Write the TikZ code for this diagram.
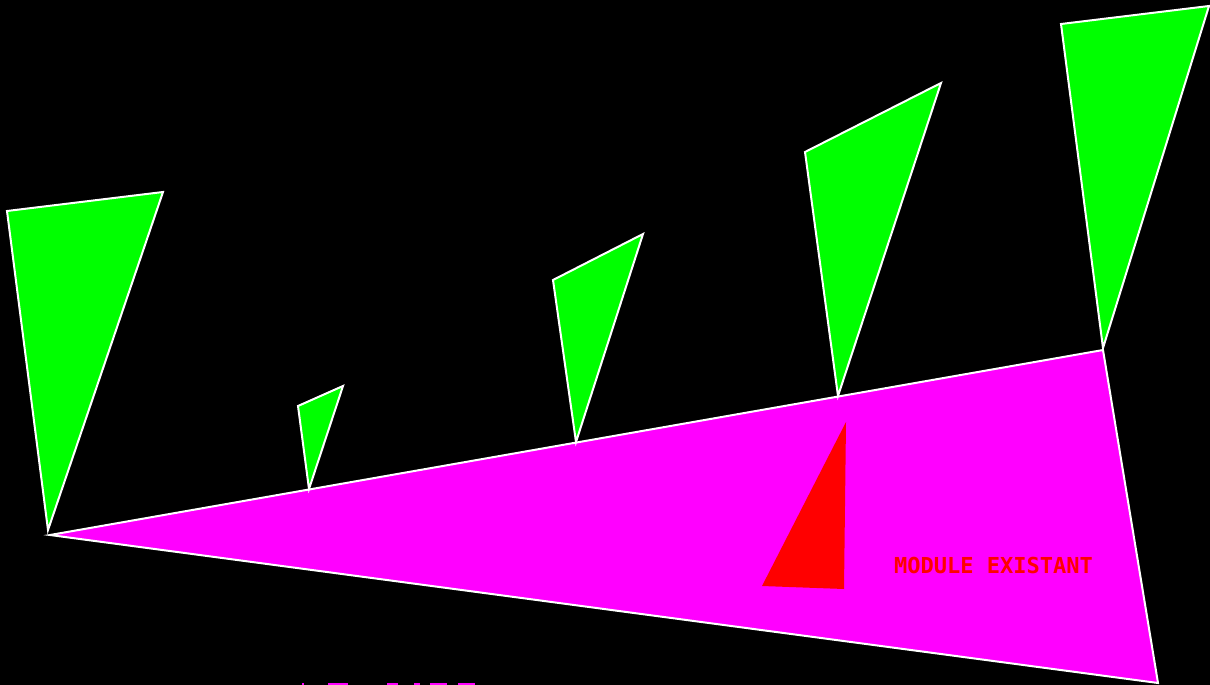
\documentclass[tikz,border=0pt]{standalone}
\usepackage{fontspec}
\newfontfamily\pixfont{DejaVu Sans Mono}
\definecolor{pgreen}{RGB}{0,255,0}
\definecolor{pmag}{RGB}{255,0,255}
\definecolor{pred}{RGB}{255,0,0}
\begin{document}
\begin{tikzpicture}[x=1pt,y=-1pt,
  module/.style={fill=pmag,draw=white,line width=2pt,line join=miter},
  leaf/.style={fill=pgreen,draw=white,line width=2pt,line join=miter},
  wedge/.style={fill=pred},
  bits/.style={fill=pmag}]
\fill[black] (0,0) rectangle (1210,685);
\useasboundingbox (0,0) rectangle (1210,685);
% main module
\filldraw[module] (50,535) -- (1103,350) -- (1158,683) -- cycle;
% green triangles
\filldraw[leaf] (7,211) -- (163,192) -- (48,530) -- cycle;
\filldraw[leaf] (298,406) -- (343,386) -- (309,489) -- cycle;
\filldraw[leaf] (553,280) -- (643,234) -- (576,442) -- cycle;
\filldraw[leaf] (805,152) -- (941,83) -- (838,396) -- cycle;
\filldraw[leaf] (1061,24) -- (1209,6) -- (1103,348) -- cycle;
% red wedge
\fill[wedge] (762,586) -- (846,422) -- (844,589) -- cycle;
\node[anchor=base west,inner sep=0pt,text=pred,font=\pixfont\bfseries\fontsize{22}{22}\selectfont] (lbl) at (894,573) {MODULE EXISTANT};
% cut-off text at bottom
\fill[bits] (302,683) rectangle (304,685);
\fill[bits] (328,683) rectangle (348,685);
\fill[bits] (387,683) rectangle (398,685);
\fill[bits] (414,683) rectangle (420,685);
\fill[bits] (430,683) rectangle (447,685);
\fill[bits] (458,683) rectangle (475,685);
\end{tikzpicture}
\end{document}
